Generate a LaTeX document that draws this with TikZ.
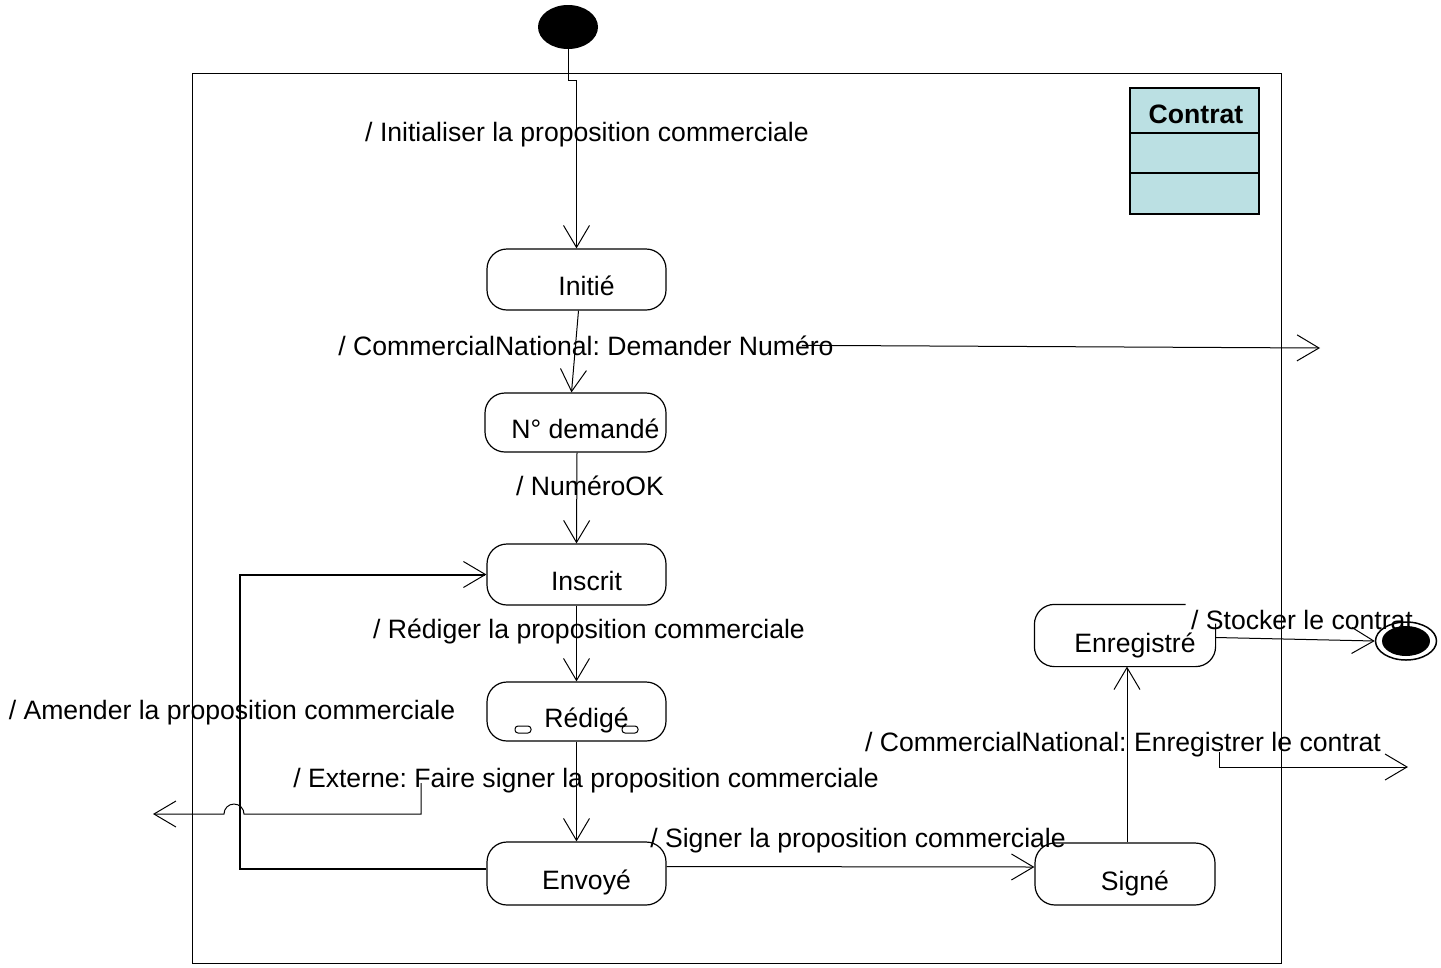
\documentclass[tikz,border=0pt]{standalone}
\usepackage{fontspec}
\setmainfont{Liberation Sans}
\usetikzlibrary{arrows.meta,shapes.geometric,calc}
\definecolor{clsfill}{RGB}{187,224,227}
\frenchspacing
\begin{document}
\begin{tikzpicture}[x=1pt,y=-1pt,
  font=\fontsize{26.6}{30}\selectfont,
  stbox/.style={draw, line width=1.2pt, rounded corners=20pt, minimum width=#1,
    minimum height=61pt, inner sep=0pt, text height=32pt, text depth=0pt,
    execute at begin node={\hspace*{20pt}}},
  lbl/.style={inner sep=0pt, anchor=base},
  arr/.style={line width=1pt, -{Straight Barb[length=22pt,width=26pt]}},
  initst/.style={ellipse, fill=black, minimum width=60pt, minimum height=44pt, inner sep=0pt},
  finout/.style={ellipse, draw, line width=1.5pt, fill=white, minimum width=61pt, minimum height=38pt, inner sep=0pt},
  finin/.style={ellipse, fill=black, minimum width=48pt, minimum height=30pt, inner sep=0pt},
  clsbox/.style={draw, fill=clsfill, line width=1.3pt, minimum width=129pt, inner sep=0pt}
]
\useasboundingbox (0,0) rectangle (1441,967);

% object frame
\draw[line width=1pt] (192,73) rectangle (1281,963);

% class box
\node[clsbox, minimum height=45pt, text height=26pt, text depth=0pt, font=\fontsize{26.6}{30}\selectfont\bfseries] (clsh) at (1194.5,110.5) {\hspace*{3pt}Contrat};
\node[clsbox, minimum height=40pt] (clsm) at (1194.5,153) {};
\node[clsbox, minimum height=41pt] (clsb) at (1194.5,193.5) {};

% pseudo-states
\node[initst] (init) at (568,27) {};
\node[finout] (fin) at (1406,641) {};
\node[finin] (finc) at (1406,641) {};

% states
\node[stbox=179pt] (ini) at (576.5,279.5) {Initié};
\node[stbox=181pt, minimum height=59pt] (nd) at (575.5,422.5) {N° demandé};
\node[stbox=179pt] (ins) at (576.5,574.5) {Inscrit};
\node[stbox=179pt, minimum height=59pt] (red) at (576.5,711.5) {Rédigé};
\node[stbox=179pt, minimum height=63pt] (env) at (576.5,873.5) {Envoyé};
\node[stbox=180pt, minimum height=62pt] (sig) at (1125,874) {Signé};
\node[stbox=180pt, draw=none, text height=34pt] (enr) at (1125,635.5) {Enregistré};
\draw[line width=1.2pt, rounded corners=20pt]
  ([xshift=-30pt]enr.north east) -| (enr.south west) -| ([yshift=12pt]enr.east);

% composite-state marks
\draw[line width=1pt, rounded corners=3pt] (515,726) rectangle (531,733);
\draw[line width=1pt, rounded corners=3pt] (622,726) rectangle (638,733);

% transition labels
\node[lbl] (t1) at (587,141) {/ Initialiser la proposition commerciale};
\node[lbl] (t2) at (586,355) {/ CommercialNational: Demander Numéro};
\node[lbl] (t3) at (590,495) {/ NuméroOK};
\node[lbl] (t4) at (589,638) {/ Rédiger la proposition commerciale};
\node[lbl] (t5) at (232,719) {/ Amender la proposition commerciale};
\node[lbl] (t6) at (586,787) {/ Externe: Faire signer la proposition commerciale};
\node[lbl] (t7) at (858,847) {/ Signer la proposition commerciale};
\node[lbl] (t8) at (1123,751) {/ CommercialNational: Enregistrer le contrat};
\node[lbl] (t9) at (1302,629) {/ Stocker le contrat};

% free ends of outgoing events
\coordinate (out1) at (1320,348);
\coordinate (ext0) at (421,783);
\coordinate (jmp) at (244,814);
\coordinate (out2) at (153,814);
\coordinate (loopc) at (240,700);
\coordinate (reg0) at (1219,752);
\coordinate (out3) at (1408,767);

% transitions
\draw[arr] (init.south) -- ++(0,31) -| (ini.north);
\draw[arr] ([xshift=2pt]ini.south) -- ([xshift=-4pt]nd.north);
\draw[arr] ([xshift=-32pt]t2.east) -- (out1);
\draw[arr] ([xshift=1.5pt]nd.south) -- (ins.north);
\draw[arr] (ins.south) -- (red.north);
\draw[arr] (red.south) -- (env.north);
\draw[arr] (ext0) |- (jmp) arc[start angle=0, end angle=180, radius=10pt] -- (out2);
\draw[line width=2pt, -{Straight Barb[length=22pt,width=26pt,line width=1pt]}]
  ([yshift=5pt]env.west) -| (loopc) |- (ins.west);
\draw[arr] ([yshift=7pt]env.east) -- ([yshift=7pt]sig.west);
\draw[arr] ([xshift=2pt]sig.north) -- ([xshift=2pt]enr.south);
\draw[arr] (reg0) |- (out3);
\draw[arr] ([yshift=-2pt]enr.east) -- (fin.west);
\end{tikzpicture}
\end{document}
